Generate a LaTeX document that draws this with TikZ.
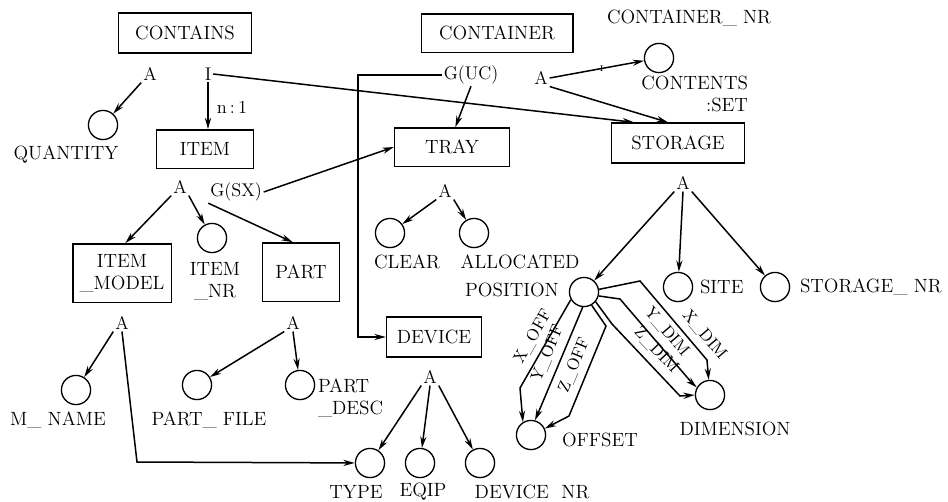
\documentclass[tikz,border=0pt]{standalone}
\usepackage{tikz}
\usetikzlibrary{arrows.meta}
\tikzset{
  entbox/.style  = {draw,thick,inner sep=2pt,font=\fontsize{11.5}{13}\selectfont},
  attcirc/.style = {draw,thick,circle,minimum size=17.5pt,inner sep=0pt},
  junct/.style   = {inner sep=1pt,font=\fontsize{11}{13}\selectfont},
  attlab/.style  = {inner sep=1pt,font=\fontsize{11.5}{13}\selectfont},
  relarr/.style  = {-{Stealth[length=2.4mm,width=1.3mm]},line width=0.9pt},
  offlab/.style  = {sloped,above=3pt,inner sep=1pt,font=\fontsize{10}{11}\selectfont}
}

\begin{document}
\begin{tikzpicture}[x=0.6pt,y=-0.6pt]
  \useasboundingbox (0,0) rectangle (948,501);
  % --- entity boxes
  \node[entbox,minimum width=80pt,minimum height=24pt] (contains) at (185,33) {CONTAINS};
  \node[entbox,minimum width=58pt,minimum height=23pt] (item) at (205,149) {ITEM};
  \node[entbox,minimum width=91pt,minimum height=23pt] (container) at (497,33) {CONTAINER};
  \node[entbox,minimum width=69pt,minimum height=23pt] (tray) at (452,147) {TRAY};
  \node[entbox,minimum width=80pt,minimum height=24pt] (storage) at (678,143) {STORAGE};
  \node[entbox,minimum width=59pt,minimum height=35pt,align=center] (model) at (122,273) {ITEM\\\_MODEL};
  \node[entbox,minimum width=46pt,minimum height=35pt] (part) at (301,272) {PART};
  \node[entbox,minimum width=57pt,minimum height=24pt] (device) at (434,337) {DEVICE};
  % --- attribute circles
  \node[attcirc] (qty) at (103,125) {};
  \node[attcirc] (itemnr) at (212,238) {};
  \node[attcirc] (contents) at (659,58) {};
  \node[attcirc] (clear) at (390,233) {};
  \node[attcirc] (alloc) at (474,233) {};
  \node[attcirc] (pos) at (584,292) {};
  \node[attcirc] (site) at (678,287) {};
  \node[attcirc] (stornr) at (775,287) {};
  \node[attcirc] (offset) at (531,435) {};
  \node[attcirc] (dim) at (710,395) {};
  \node[attcirc] (mname) at (76,390) {};
  \node[attcirc] (pfile) at (197,385) {};
  \node[attcirc] (pdesc) at (300,385) {};
  \node[attcirc] (type) at (370,463) {};
  \node[attcirc] (eqip) at (420,463) {};
  \node[attcirc] (devnr) at (480,463) {};
  % --- attribute names
  \node[attlab] (qtyL) at (66,155) {QUANTITY};
  \node[attlab,align=center] (itemnrL) at (215,281) {ITEM\\\_NR};
  \node[attlab] (ctrnrL) at (689,18) {CONTAINER\_ NR};
  \node[attlab,align=right,anchor=north east] (contentsL) at (750,74) {CONTENTS\\:SET};
  \node[attlab] (clearL) at (407,262) {CLEAR};
  \node[attlab] (allocL) at (520,262) {ALLOCATED};
  \node[attlab] (posL) at (512,290) {POSITION};
  \node[attlab,anchor=west] (siteL) at (698,287) {SITE};
  \node[attlab,anchor=west] (stornrL) at (798,287) {STORAGE\_ NR};
  \node[attlab] (offsetL) at (600,440) {OFFSET};
  \node[attlab] (dimL) at (735,429) {DIMENSION};
  \node[attlab] (mnameL) at (58,420) {M\_ NAME};
  \node[attlab] (pfileL) at (209,420) {PART\_ FILE};
  \node[attlab,align=left,anchor=north west] (pdescL) at (316,377) {PART\\\_DESC};
  \node[attlab] (typeL) at (356,492) {TYPE};
  \node[attlab] (eqipL) at (423,492) {EQIP};
  \node[attlab] (devnrL) at (532,492) {DEVICE~~NR};
  % --- junctions
  \node[junct] (aCont) at (150,74) {A};
  \node[junct] (iCont) at (208,74) {I};
  \node[junct] (nOne) at (232,107) {n\,:\,1};
  \node[junct] (aItem) at (180,187) {A};
  \node[junct] (gSX) at (236,192) {G(SX)};
  \node[junct] (gUC) at (471,75) {G(UC)};
  \node[junct] (aCtr) at (541,78) {A};
  \node[junct] (aTray) at (445,191) {A};
  \node[junct] (aStor) at (683,183) {A};
  \node[junct] (aModel) at (122,323) {A};
  \node[junct] (aPart) at (293,323) {A};
  \node[junct] (aDev) at (430,377) {A};
  \coordinate (bendUC) at (358,75);
  \coordinate (bendTy) at (137,462);
  % --- CONTAINS
  \draw[relarr] (aCont.south west) -- (qty);
  \draw[relarr] (iCont.south) -- (iCont |- item.north);
  \draw[relarr] (iCont.east) -- ([xshift=14pt]storage.north west);
  % --- ITEM
  \draw[relarr] (aItem.south west) -- ([xshift=2pt]model.north);
  \draw[relarr] (aItem.south east) -- (itemnr);
  \draw[relarr] (gSX.south west) -- ([xshift=-5pt]part.north);
  \draw[relarr] (gSX.east) -- (tray.west);
  % --- CONTAINER
  \draw[relarr] (gUC.south) -- ([xshift=2pt]tray.north);
  \draw[relarr] (gUC.west) -- (bendUC) |- (device.west);
  \draw[relarr] (aCtr.east) -- node[pos=.55,inner sep=0pt,font=\tiny] {I} (contents);
  \draw[relarr] (aCtr.south east) -- ([xshift=-6pt]storage.north);
  % --- TRAY
  \draw[relarr] (aTray.south west) -- (clear);
  \draw[relarr] (aTray.south east) -- (alloc);
  % --- STORAGE
  \draw[relarr] (aStor.south west) -- (pos);
  \draw[relarr] (aStor.south) -- (site);
  \draw[relarr] (aStor.south east) -- (stornr);
  % --- ITEM_MODEL, PART, DEVICE
  \draw[relarr] (aModel.south west) -- (mname);
  \draw[relarr] (aModel.south) -- (bendTy) -- (type);
  \draw[relarr] (aPart.south west) -- (pfile);
  \draw[relarr] (aPart.south) -- (pdesc);
  \draw[relarr] (aDev.south west) -- (type);
  \draw[relarr] (aDev.south) -- (eqip);
  \draw[relarr] (aDev.south east) -- (devnr);
  % --- POSITION to OFFSET and DIMENSION
  \draw[relarr] (pos.-150) -- node[offlab] {X\_OFF} (520,388) -- (offset.122);
  \draw[relarr] (pos.-95) -- node[offlab] {Y\_OFF} (539,411) -- (offset.75);
  \draw[relarr] (pos.-60) -- (606,326) -- node[offlab] {Z\_OFF} (569,416) -- (offset.25);
  \draw[relarr] (pos.10) -- (640,281) -- node[offlab,pos=.8] {X\_DIM} (707,360) -- (dim.95);
  \draw[relarr] (pos.-15) -- (620,299) -- node[offlab] {Y\_DIM} (692,383) -- (dim.150);
  \draw[relarr] (pos.-40) -- (612,324) -- node[offlab] {Z\_DIM} (680,396) -- (dim.180);
\end{tikzpicture}
\end{document}
